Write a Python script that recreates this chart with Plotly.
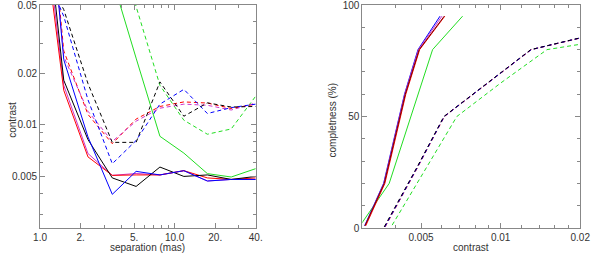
import math
import plotly.graph_objects as go

# ---------------- Left panel data: contrast vs separation ----------------
sep = [1.0, 1.5, 2.27, 3.44, 5.17, 7.77, 11.7, 17.5, 26.3, 40.0]

red_solid     = [0.196, 0.0159, 0.0065, 0.00507, 0.0051, 0.0051, 0.0054, 0.0049, 0.0048, 0.0049]
magenta_solid = [0.25, 0.0170, 0.0068, 0.00507, 0.0052, 0.0051, 0.0054, 0.0047, 0.0048, 0.0048]
black_solid   = [0.341, 0.0182, 0.0082, 0.0049, 0.00437, 0.00567, 0.0050, 0.0051, 0.0048, 0.0050]
blue_solid    = [0.79, 0.024, 0.0085, 0.00393, 0.00535, 0.0051, 0.0054, 0.0047, 0.0048, 0.0048]
green_solid   = [1.0, 0.5, 0.2, 0.071, 0.0245, 0.00857, 0.00684, 0.00519, 0.00496, 0.00555]

red_dash      = [0.8, 0.027, 0.0115, 0.00776, 0.0108, 0.0128, 0.0136, 0.0134, 0.01245, 0.0132]
magenta_dash  = [0.7, 0.025, 0.0120, 0.0080, 0.0105, 0.0125, 0.0132, 0.0130, 0.0122, 0.0134]
black_dash    = [0.087, 0.047, 0.0174, 0.0079, 0.0079, 0.0178, 0.01122, 0.01343, 0.0127, 0.0128]
blue_dash     = [0.09, 0.043, 0.0140, 0.00593, 0.0081, 0.0132, 0.0161, 0.01164, 0.0126, 0.0132]
green_dash    = [1.0, 0.8, 0.4, 0.15, 0.049, 0.0170, 0.01064, 0.00881, 0.00946, 0.0147]

# ---------------- Right panel data: completeness vs contrast ----------------
compl_solid = [1, 20, 60, 80, 95]
blue_c_x    = [0.00306, 0.00361, 0.00433, 0.00487, 0.0059]
magenta_c_x = [0.00307, 0.00362, 0.00434, 0.00489, 0.0060]
black_c_x   = [0.00307, 0.00363, 0.00436, 0.00492, 0.00612]
red_c_x     = [0.00309, 0.00365, 0.00438, 0.00494, 0.00615]

compl_green = [0, 20, 80, 95]
green_c_x   = [0.0029, 0.00379, 0.00553, 0.00718]

compl_dash   = [0.5, 27.5, 50, 69.6, 80, 85.3]
black_d_x    = [0.00363, 0.00484, 0.0061, 0.0100, 0.0130, 0.0200]
blue_d_x     = [0.00365, 0.00486, 0.00612, 0.01003, 0.01305, 0.0201]
magenta_d_x  = [0.00364, 0.00485, 0.00611, 0.01002, 0.01302, 0.0201]
red_d_x      = [0.00366, 0.00487, 0.00613, 0.01004, 0.01307, 0.0202]

compl_green_d = [1.3, 50, 65, 80, 82.4]
green_d_x     = [0.00389, 0.00683, 0.0100, 0.01497, 0.0200]

# tick labels
left_x_ticks = [1.0, 2.0, 5.0, 10.0, 20.0, 40.0]
left_x_text = ["1.0", "2.", "5.", "10.0", "20.", "40."]
left_y_ticks = [0.005, 0.01, 0.02, 0.05]
left_y_text = ["0.005", "0.01", "0.02", "0.05"]
right_x_ticks = [0.005, 0.01, 0.02]
right_x_text = ["0.005", "0.01", "0.02"]
right_y_ticks = [0, 50, 100]
right_y_text = ["0", "50", "100"]

RED = "#ff0000"
BLUE = "#0000ff"
BLACK = "#000000"
GREEN = "#22dd22"
MAGENTA = "#cc33cc"
DASH = "4px,3px"

fig = go.Figure()

def add(x, y, color, dash, xa, ya, width=1):
    fig.add_trace(go.Scatter(x=x, y=y, mode="lines", xaxis=xa, yaxis=ya,
                             line=dict(color=color, width=width, dash=dash),
                             hoverinfo="skip", showlegend=False))

# left panel
add(sep, green_dash, GREEN, DASH, "x", "y")
add(sep, red_dash, RED, DASH, "x", "y")
add(sep, magenta_dash, MAGENTA, DASH, "x", "y")
add(sep, blue_dash, BLUE, DASH, "x", "y")
add(sep, black_dash, BLACK, DASH, "x", "y")
add(sep, green_solid, GREEN, "solid", "x", "y")
add(sep, magenta_solid, MAGENTA, "solid", "x", "y")
add(sep, red_solid, RED, "solid", "x", "y")
add(sep, black_solid, BLACK, "solid", "x", "y")
add(sep, blue_solid, BLUE, "solid", "x", "y")

# right panel
add(green_d_x, compl_green_d, GREEN, DASH, "x2", "y2")
add(red_d_x, compl_dash, RED, DASH, "x2", "y2")
add(magenta_d_x, compl_dash, MAGENTA, DASH, "x2", "y2")
add(blue_d_x, compl_dash, BLUE, DASH, "x2", "y2")
add(black_d_x, compl_dash, BLACK, DASH, "x2", "y2")
add(green_c_x, compl_green, GREEN, "solid", "x2", "y2")
add(blue_c_x, compl_solid, BLUE, "solid", "x2", "y2")
add(magenta_c_x, compl_solid, MAGENTA, "solid", "x2", "y2")
add(red_c_x, compl_solid, RED, "solid", "x2", "y2")
add(black_c_x, compl_solid, "#7a0000", "solid", "x2", "y2")

AX = "#888888"
FONT = dict(family="Liberation Sans, Arial, sans-serif", size=10, color="#333333")

def axis(**kw):
    base = dict(showgrid=False, zeroline=False, showline=True, linecolor=AX, linewidth=1,
                mirror="allticks", ticks="inside", ticklen=5, tickcolor=AX, tickwidth=1,
                tickfont=FONT, tickmode="array", ticklabeloverflow="allow")
    base.update(kw)
    return base

W, H = 600, 254
ML, MR, MT, MB = 0, 0, 5, 26
EPS = 1e-4

fig.update_layout(
    width=W, height=H, margin=dict(l=ML, r=MR, t=MT, b=MB),
    paper_bgcolor="white", plot_bgcolor="white", font=FONT,
    xaxis=axis(type="log", domain=[34 / W, 256 / W], range=[0 - EPS, math.log10(40) + EPS],
               tickvals=left_x_ticks, ticktext=left_x_text, anchor="y",
               minor=dict(tickmode="array", tickvals=[3, 4, 6, 7, 8, 9, 30],
                          ticks="inside", ticklen=3, tickcolor=AX)),
    yaxis=axis(type="log", domain=[0, 1], range=[math.log10(0.0025), math.log10(0.05) + EPS],
               tickvals=left_y_ticks, ticktext=left_y_text, anchor="x",
               minor=dict(tickmode="array",
                          tickvals=[0.003, 0.004, 0.006, 0.007, 0.008, 0.009, 0.03, 0.04],
                          ticks="inside", ticklen=3, tickcolor=AX)),
    xaxis2=axis(type="log", domain=[365.7 / W, 590 / W],
                range=[math.log10(0.003), math.log10(0.02) + EPS],
                tickvals=right_x_ticks, ticktext=right_x_text, anchor="y2",
                minor=dict(tickmode="array",
                           tickvals=[0.004, 0.006, 0.007, 0.008, 0.009, 0.012, 0.014, 0.016, 0.018],
                           ticks="inside", ticklen=3, tickcolor=AX)),
    yaxis2=axis(domain=[0, 1], range=[0, 100.01], tickvals=right_y_ticks,
                ticktext=right_y_text, anchor="x2",
                minor=dict(tickmode="array", tickvals=[10, 20, 30, 40, 60, 70, 80, 90],
                           ticks="inside", ticklen=3, tickcolor=AX)),
)

PH = H - MT - MB
def py(y_px):
    return (H - MB - y_px) / PH

annots = [
    dict(text="separation (mas)", x=145 / W, y=py(247)),
    dict(text="contrast", x=478 / W, y=py(247)),
    dict(text="contrast", x=6 / W, y=py(120), textangle=-90),
    dict(text="completness (%)", x=336 / W, y=py(120), textangle=-90),
]
for a in annots:
    fig.add_annotation(xref="paper", yref="paper", showarrow=False, font=FONT,
                       xanchor="center", yanchor="middle", **a)

fig.write_html("out.html", config={"displayModeBar": False},
               post_script="document.body.style.margin='0';document.body.style.overflow='hidden';")
